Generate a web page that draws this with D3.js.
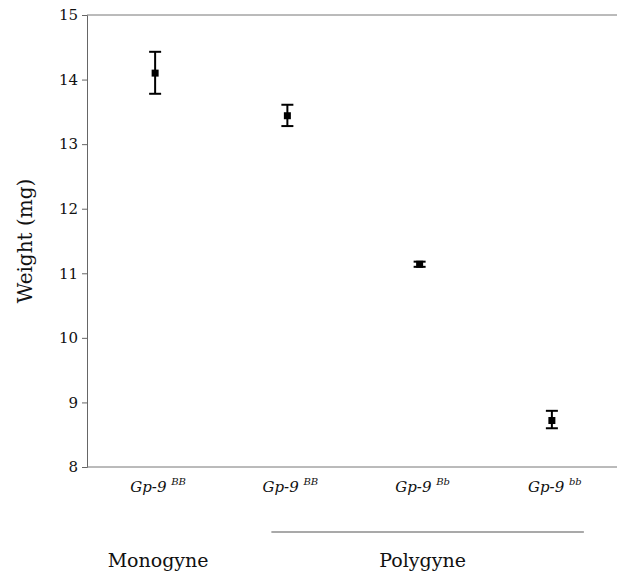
<!DOCTYPE html>
<html><head><meta charset="utf-8">
<script src="https://cdn.jsdelivr.net/npm/d3@7"></script>
<style>body{margin:0;background:#fff}svg{display:block}</style>
</head><body><svg id="c" width="617" height="575"></svg>
<script>
const categories = ["G1","G2","G3","G4"];
const genoBase = ["Gp-9","Gp-9","Gp-9","Gp-9"];
const genoSup = ["BB","BB","Bb","bb"];
const means = [14.10, 13.44, 11.14, 8.72];
const upper = [14.43, 13.61, 11.18, 8.87];
const lower = [13.78, 13.28, 11.10, 8.60];
const yTicks = [8,9,10,11,12,13,14,15];
const groups = [{name:"Monogyne", cats:["G1"]},{name:"Polygyne", cats:["G2","G3","G4"]}];

const FF = "'DejaVu Serif', serif";
const svg = d3.select("#c");
const L=87, R=617, T=15, B=467;
const x = d3.scalePoint().domain(categories).range([L+2,R+1]).padding(0.5);
const y = d3.scaleLinear().domain([8,15]).range([B,T]);

const yAxis = d3.axisLeft(y).tickValues(yTicks).tickSize(5).tickFormat(d3.format("d"));
const gy = svg.append("g").attr("transform",`translate(${L},0)`).call(yAxis).attr("font-family",FF);
gy.select(".domain").attr("stroke","#666");
gy.selectAll(".tick line").attr("stroke","#666");
gy.selectAll(".tick text").attr("font-size",15).style("font-family",FF).attr("fill","#111").attr("x",-9);
svg.append("line").attr("x1",L).attr("x2",R).attr("y1",y(15)).attr("y2",y(15)).attr("stroke","#777");
svg.append("line").attr("x1",L).attr("x2",R).attr("y1",y(8)).attr("y2",y(8)).attr("stroke","#777");

svg.append("text").attr("transform",`translate(32,${(T+B)/2}) rotate(-90)`).attr("text-anchor","middle")
  .style("font-family",FF).attr("font-size",20).attr("fill","#111").text("Weight (mg)");

const g = svg.append("g");
categories.forEach((c,i)=>{
  const cx = x(c);
  g.append("line").attr("x1",cx).attr("x2",cx).attr("y1",y(upper[i])).attr("y2",y(lower[i])).attr("stroke","#000").attr("stroke-width",2);
  [upper[i],lower[i]].forEach(v=>g.append("line").attr("x1",cx-6).attr("x2",cx+6).attr("y1",y(v)).attr("y2",y(v)).attr("stroke","#000").attr("stroke-width",2));
  g.append("rect").attr("x",cx-3.5).attr("y",y(means[i])-3.5).attr("width",7).attr("height",7).attr("fill","#000");
});

categories.forEach((c,i)=>{
  const t = svg.append("text").attr("x",x(c)+3).attr("y",492).attr("text-anchor","middle")
    .style("font-family",FF).attr("font-size",15).attr("font-style","italic").attr("fill","#111");
  t.append("tspan").text(genoBase[i]+" ");
  t.append("tspan").attr("dy",-7).attr("font-size",10).text(genoSup[i]);
});

groups.forEach(gr=>{
  const xs = gr.cats.map(c=>x(c));
  const mid = (d3.min(xs)+d3.max(xs))/2;
  svg.append("text").attr("x",mid+3).attr("y",567).attr("text-anchor","middle")
    .style("font-family",FF).attr("font-size",19).attr("fill","#111").text(gr.name);
  if(gr.cats.length>1){
    svg.append("line").attr("x1",d3.min(xs)-16).attr("x2",d3.max(xs)+32).attr("y1",532).attr("y2",532).attr("stroke","#555").attr("stroke-width",1.2);
  }
});
</script></body></html>
